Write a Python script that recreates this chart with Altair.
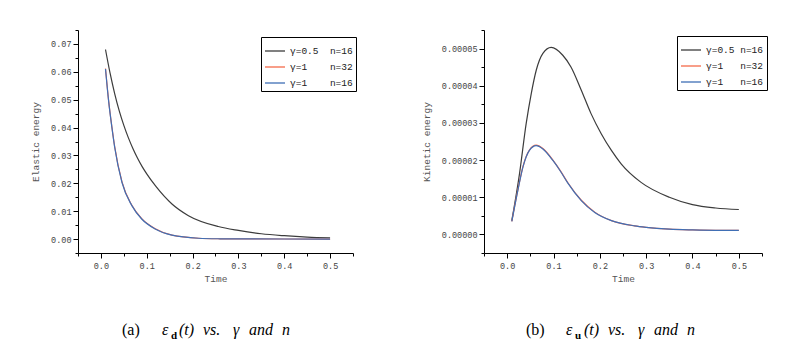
import altair as alt
import pandas as pd

NB = "\u00a0"
series_labels = ["γ=0.5" + NB * 2 + "n=16", "γ=1" + NB * 4 + "n=32", "γ=1" + NB * 4 + "n=16"]
series_labels_b = ["γ=0.5" + NB + "n=16", "γ=1" + NB * 3 + "n=32", "γ=1" + NB * 3 + "n=16"]
series_colors = ["#3c3c3c", "#f4694a", "#3f6fb5"]

# (a) elastic energy
ela_t_g05 = [0.01, 0.02, 0.03, 0.04, 0.05, 0.06, 0.07, 0.08, 0.09, 0.1, 0.12, 0.155, 0.191, 0.256, 0.3, 0.35, 0.4, 0.45, 0.5]
ela_v_g05 = [0.068, 0.0595, 0.0522, 0.046, 0.0408, 0.0363, 0.0324, 0.029, 0.026, 0.0234, 0.0189, 0.0126, 0.0084, 0.0045, 0.0031, 0.0019, 0.0012, 0.0007, 0.0004]
ela_t_g1 = [0.01, 0.017, 0.024, 0.030, 0.046, 0.0675, 0.089, 0.1185, 0.155, 0.213, 0.26, 0.3, 0.4, 0.5]
ela_v_g1_n32 = [0.0612, 0.0494, 0.0402, 0.0332, 0.0205, 0.0121, 0.0073, 0.0037, 0.0014, 0.0003, 0.0001, 0.00005, 0.00002, 0.00001]
ela_v_g1_n16 = [0.061, 0.0492, 0.040, 0.033, 0.0203, 0.012, 0.0072, 0.0036, 0.0014, 0.0003, 0.0001, 0.00005, 0.00002, 0.00001]

# (b) kinetic energy (units of 1e-5)
kin_t_g05 = [0.01, 0.0266, 0.041, 0.052, 0.0626, 0.0771, 0.095, 0.12, 0.138, 0.16, 0.181, 0.203, 0.225, 0.246, 0.289, 0.35, 0.4, 0.45, 0.5]
kin_v_g05 = [0.37, 1.63, 2.98, 3.79, 4.41, 4.87, 5.03, 4.82, 4.5, 3.88, 3.25, 2.71, 2.26, 1.9, 1.4, 1.0, 0.8, 0.71, 0.67]
kin_t_g1 = [0.01, 0.023, 0.034, 0.048, 0.0626, 0.0771, 0.0987, 0.115, 0.131, 0.160, 0.189, 0.225, 0.275, 0.3, 0.35, 0.4, 0.45, 0.5]
kin_v_g1_n32 = [0.35, 1.19, 1.82, 2.27, 2.40, 2.31, 2.00, 1.71, 1.39, 0.92, 0.60, 0.37, 0.23, 0.19, 0.14, 0.12, 0.11, 0.11]
kin_v_g1_n16 = [0.35, 1.18, 1.81, 2.26, 2.39, 2.30, 1.99, 1.70, 1.38, 0.91, 0.59, 0.37, 0.23, 0.19, 0.14, 0.12, 0.11, 0.11]

x_ticks = [-0.05, 0.0, 0.05, 0.1, 0.15, 0.2, 0.25, 0.3, 0.35, 0.4, 0.45, 0.5, 0.55]
ela_ticks = [-0.005, 0.0, 0.005, 0.01, 0.015, 0.02, 0.025, 0.03, 0.035, 0.04, 0.045, 0.05, 0.055, 0.06, 0.065, 0.07, 0.075]
kin_ticks = [-0.000005, 0.0, 0.000005, 0.00001, 0.000015, 0.00002, 0.000025, 0.00003, 0.000035, 0.00004, 0.000045, 0.00005, 0.000055]


def frame(labels, ts, vs, scale=1.0):
    rows = []
    for k, (lab, t, v) in enumerate(zip(labels, ts, vs)):
        for i, (a, b) in enumerate(zip(t, v)):
            rows.append({"t": a, "v": b * scale, "s": lab, "k": k, "i": i})
    return pd.DataFrame(rows)


def major(mult):
    return f"abs(datum.value*{mult} - round(datum.value*{mult})) < 1e-6"


def axis(values, fmt, mult, title, title_pad, label_pad):
    return alt.Axis(
        values=values, format=fmt, title=title,
        labelExpr=f"{major(mult)} ? datum.label : ''",
        tickSize={"condition": {"test": major(mult), "value": 5}, "value": 3},
        titlePadding=title_pad, labelPadding=label_pad,
        grid=False, domainColor="#000", tickColor="#000",
    )


def panel(df, labels, ydomain, yticks, yfmt, ymult, ytitle, width, lx, ly, cap):
    lines = alt.Chart(df).mark_line(strokeWidth=1.2, interpolate="monotone").encode(
        x=alt.X("t:Q", scale=alt.Scale(domain=[-0.05, 0.55], nice=False, zero=False),
                axis=axis(x_ticks, ".1f", 10, "Time", 4, 3)),
        y=alt.Y("v:Q", scale=alt.Scale(domain=ydomain, nice=False, zero=False),
                axis=axis(yticks, yfmt, ymult, ytitle, 10, 2)),
        color=alt.Color("s:N", scale=alt.Scale(domain=labels, range=series_colors),
                        sort=labels,
                        legend=alt.Legend(
                            title=None, orient="none", legendX=lx, legendY=ly,
                            strokeColor="#000", fillColor="#fff", padding=3,
                            symbolType="stroke", symbolSize=400, symbolStrokeWidth=1.3,
                            labelFont="Liberation Mono", labelFontSize=9.5, labelColor="#222",
                            labelLimit=300, rowPadding=-4, labelOffset=4,
                        )),
        detail="k:N",
        order="i:Q",
    )
    layers = [lines]
    for txt, x, y, style, weight, size in cap:
        layers.append(
            alt.Chart(pd.DataFrame({"c": [txt]})).mark_text(
                align="left", baseline="alphabetic", font="Liberation Serif",
                fontSize=size, fontStyle=style, fontWeight=weight, color="#000",
            ).encode(x=alt.value(x), y=alt.value(y), text="c:N")
        )
    return alt.layer(*layers).properties(width=width, height=223)


cap_a = [("(a)", 44, 305, "normal", "normal", 16),
         ("ε", 84, 305, "italic", "normal", 16),
         ("d", 93, 309, "normal", "bold", 11),
         ("(t)", 101, 305, "italic", "normal", 16),
         ("vs.", 125, 305, "italic", "normal", 16),
         ("γ", 155, 305, "italic", "normal", 16),
         ("and", 171, 305, "italic", "normal", 16),
         ("n", 204, 305, "italic", "normal", 16)]
cap_b = [("(b)", 42, 305, "normal", "normal", 16),
         ("ε", 82, 305, "italic", "normal", 16),
         ("u", 91, 309, "normal", "bold", 11),
         ("(t)", 100, 305, "italic", "normal", 16),
         ("vs.", 124, 305, "italic", "normal", 16),
         ("γ", 154, 305, "italic", "normal", 16),
         ("and", 170, 305, "italic", "normal", 16),
         ("n", 203, 305, "italic", "normal", 16)]

df_a = frame(series_labels, [ela_t_g05, ela_t_g1, ela_t_g1], [ela_v_g05, ela_v_g1_n32, ela_v_g1_n16])
df_b = frame(series_labels_b, [kin_t_g05, kin_t_g1, kin_t_g1], [kin_v_g05, kin_v_g1_n32, kin_v_g1_n16], 1e-5)

left = panel(df_a, series_labels, [-0.005, 0.075], ela_ticks, ".2f", 100, "Elastic energy", 275, 183, 7, cap_a)
right = panel(df_b, series_labels_b, [-0.000005, 0.000055], kin_ticks, ".5f", 100000, "Kinetic energy", 278, 193, 6, cap_b)

chart = alt.hconcat(left, right, spacing=64).resolve_scale(color="independent").properties(
    padding={"left": 22, "top": 21, "right": 5, "bottom": 5}
).configure_view(stroke=None).configure_axis(
    labelFont="Liberation Mono", labelFontSize=8.5, labelColor="#444",
    titleFont="Liberation Mono", titleFontSize=9.5, titleFontWeight="normal", titleColor="#555",
)

chart.save("out.html", embed_options={"renderer": "svg", "actions": False})
